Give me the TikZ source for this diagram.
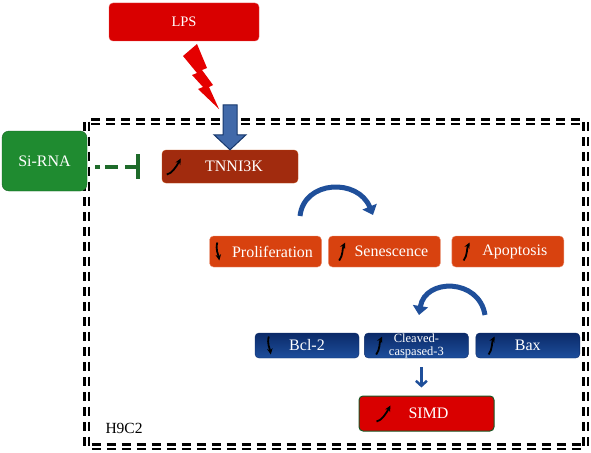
\documentclass[tikz,border=0pt]{standalone}
\usepackage{fontspec}
\setmainfont{Liberation Serif}
\usetikzlibrary{arrows.meta,positioning}

\definecolor{lpsred}{HTML}{D90000}
\definecolor{tnnired}{HTML}{A12B0E}
\definecolor{sigreen}{HTML}{1F8B30}
\definecolor{cellorange}{HTML}{D8420F}
\definecolor{genetop}{HTML}{0B2A68}
\definecolor{genebot}{HTML}{1D4E9C}
\definecolor{flowblue}{HTML}{1F4F9A}
\definecolor{inhibgreen}{HTML}{1E6B2A}

\tikzset{
  rise/.pic={\draw[swoosh] (-3,9) .. controls (1,4) and (0,-3) .. (3,-9);},
  fall/.pic={\draw[swoosh] (-1,-9) .. controls (-3,-2) and (0,3) .. (1,9);},
  slant/.pic={\draw[swoosh] (-7,8) .. controls (-2,7) and (2,1) .. (7,-8);}
}

\begin{document}
\begin{tikzpicture}[x=1pt,y=-1pt]
  \tikzstyle{box}=[rounded corners=4pt,text=white,inner sep=0pt,font=\fontsize{16}{18}\selectfont]
  \tikzstyle{cellbox}=[box,fill=cellorange,draw=cellorange!55!white,minimum width=112pt,minimum height=31pt]
  \tikzstyle{genebox}=[box,top color=genetop,bottom color=genebot,draw=genetop,minimum width=104pt,minimum height=25pt]
  \tikzstyle{swoosh}=[line width=1.8pt,-{Stealth[length=6pt,width=5.5pt]}]
  \tikzstyle{curl}=[draw=flowblue,line width=5pt,-{Triangle[length=9pt,width=15pt]}]
  \tikzstyle{frame}=[double,double distance=2pt,line width=2.3pt,dash pattern=on 9pt off 6pt]
  \useasboundingbox (0,0) rectangle (591,452);

  % cell line
  \draw[frame] (86.5,121.5) rectangle (585.5,446.5);
  \node[anchor=west,font=\fontsize{15.5}{17}\selectfont] (h9c2) at (102,428) {H9C2};

  % top row
  \node[box,fill=lpsred,draw=lpsred!70!white,minimum width=150pt,minimum height=38pt,
    font=\fontsize{14.5}{17}\selectfont] (lps) at (184,22) {LPS};
  \node[box,fill=sigreen,draw=sigreen!70!black,minimum width=85pt,minimum height=60pt,rounded corners=7pt]
    (sirna) at (44.5,161) {Si-RNA};
  \node[box,fill=tnnired,draw=tnnired!70!orange,minimum width=136pt,minimum height=33pt]
    (tnni) at (230,166.5) {\hspace*{8pt}TNNI3K};
  \pic at ([xshift=12pt]tnni.west) {slant};

  \fill[red!90!black] (183,56) -- (197,44) -- (207,68) -- (202,70) -- (213,85) -- (209,87)
    -- (219,109) -- (198,89) -- (203,87) -- (192,75) -- (197,73) -- cycle;
  \draw[fill=flowblue!85!white,draw=flowblue!70!black,line width=1pt] (tnni.north)
    -- ++(16,-15) -- ++(-9,0) -- ++(0,-30) -- ++(-14,0) -- ++(0,30) -- ++(-9,0) -- cycle;
  \draw[inhibgreen,line width=4pt,dash pattern=on 5pt off 5pt on 13pt off 7pt on 16pt off 20pt,
    -{Bar[width=25pt,line width=3.5pt]}] ([xshift=8pt]sirna.east |- tnni.west) -- ([xshift=-22pt]tnni.west);

  % cell fate
  \coordinate (c1) at (300,216);
  \coordinate (c2) at (373,215);
  \draw[curl] (c1) .. controls (304,180) and (358,178) .. (c2);
  \node[cellbox] (pro) at (265.5,251.5) {\hspace*{14pt}Proliferation};
  \node[cellbox,right=6.5pt of pro] (sen) {\hspace*{14pt}Senescence};
  \node[cellbox,right=11pt of sen] (apo) {\hspace*{14pt}Apoptosis};
  \pic at ([xshift=9pt]pro.west) {fall};
  \pic at ([xshift=14pt]sen.west) {rise};
  \pic at ([xshift=15pt]apo.west) {rise};

  % apoptosis markers
  \coordinate (c3) at (485,315);
  \coordinate (c4) at (419,315);
  \draw[curl] (c3) .. controls (479,278) and (425,278) .. (c4);
  \node[genebox] (bcl) at (307,345.5) {Bcl-2};
  \node[genebox,right=5pt of bcl,font=\fontsize{12.5}{13}\selectfont,align=center] (cas) {Cleaved-\\caspased-3};
  \node[genebox,right=7pt of cas] (bax) {Bax};
  \pic at ([xshift=15pt]bcl.west) {fall};
  \pic at ([xshift=15pt]cas.west) {rise};
  \pic at ([xshift=16pt]bax.west) {rise};

  \node[box,fill=lpsred,draw=inhibgreen!80!black,line width=1pt,minimum width=135pt,minimum height=35pt]
    (simd) at (426.5,413.5) {\hspace*{4pt}SIMD};
  \pic at ([xshift=25pt]simd.west) {slant};
  \draw[flowblue,line width=2.5pt,-{Straight Barb[length=5pt,width=11pt]}]
    ([xshift=5pt,yshift=-9pt]cas.south) -- ([xshift=5pt,yshift=8pt]cas.south |- simd.north);
\end{tikzpicture}
\end{document}
